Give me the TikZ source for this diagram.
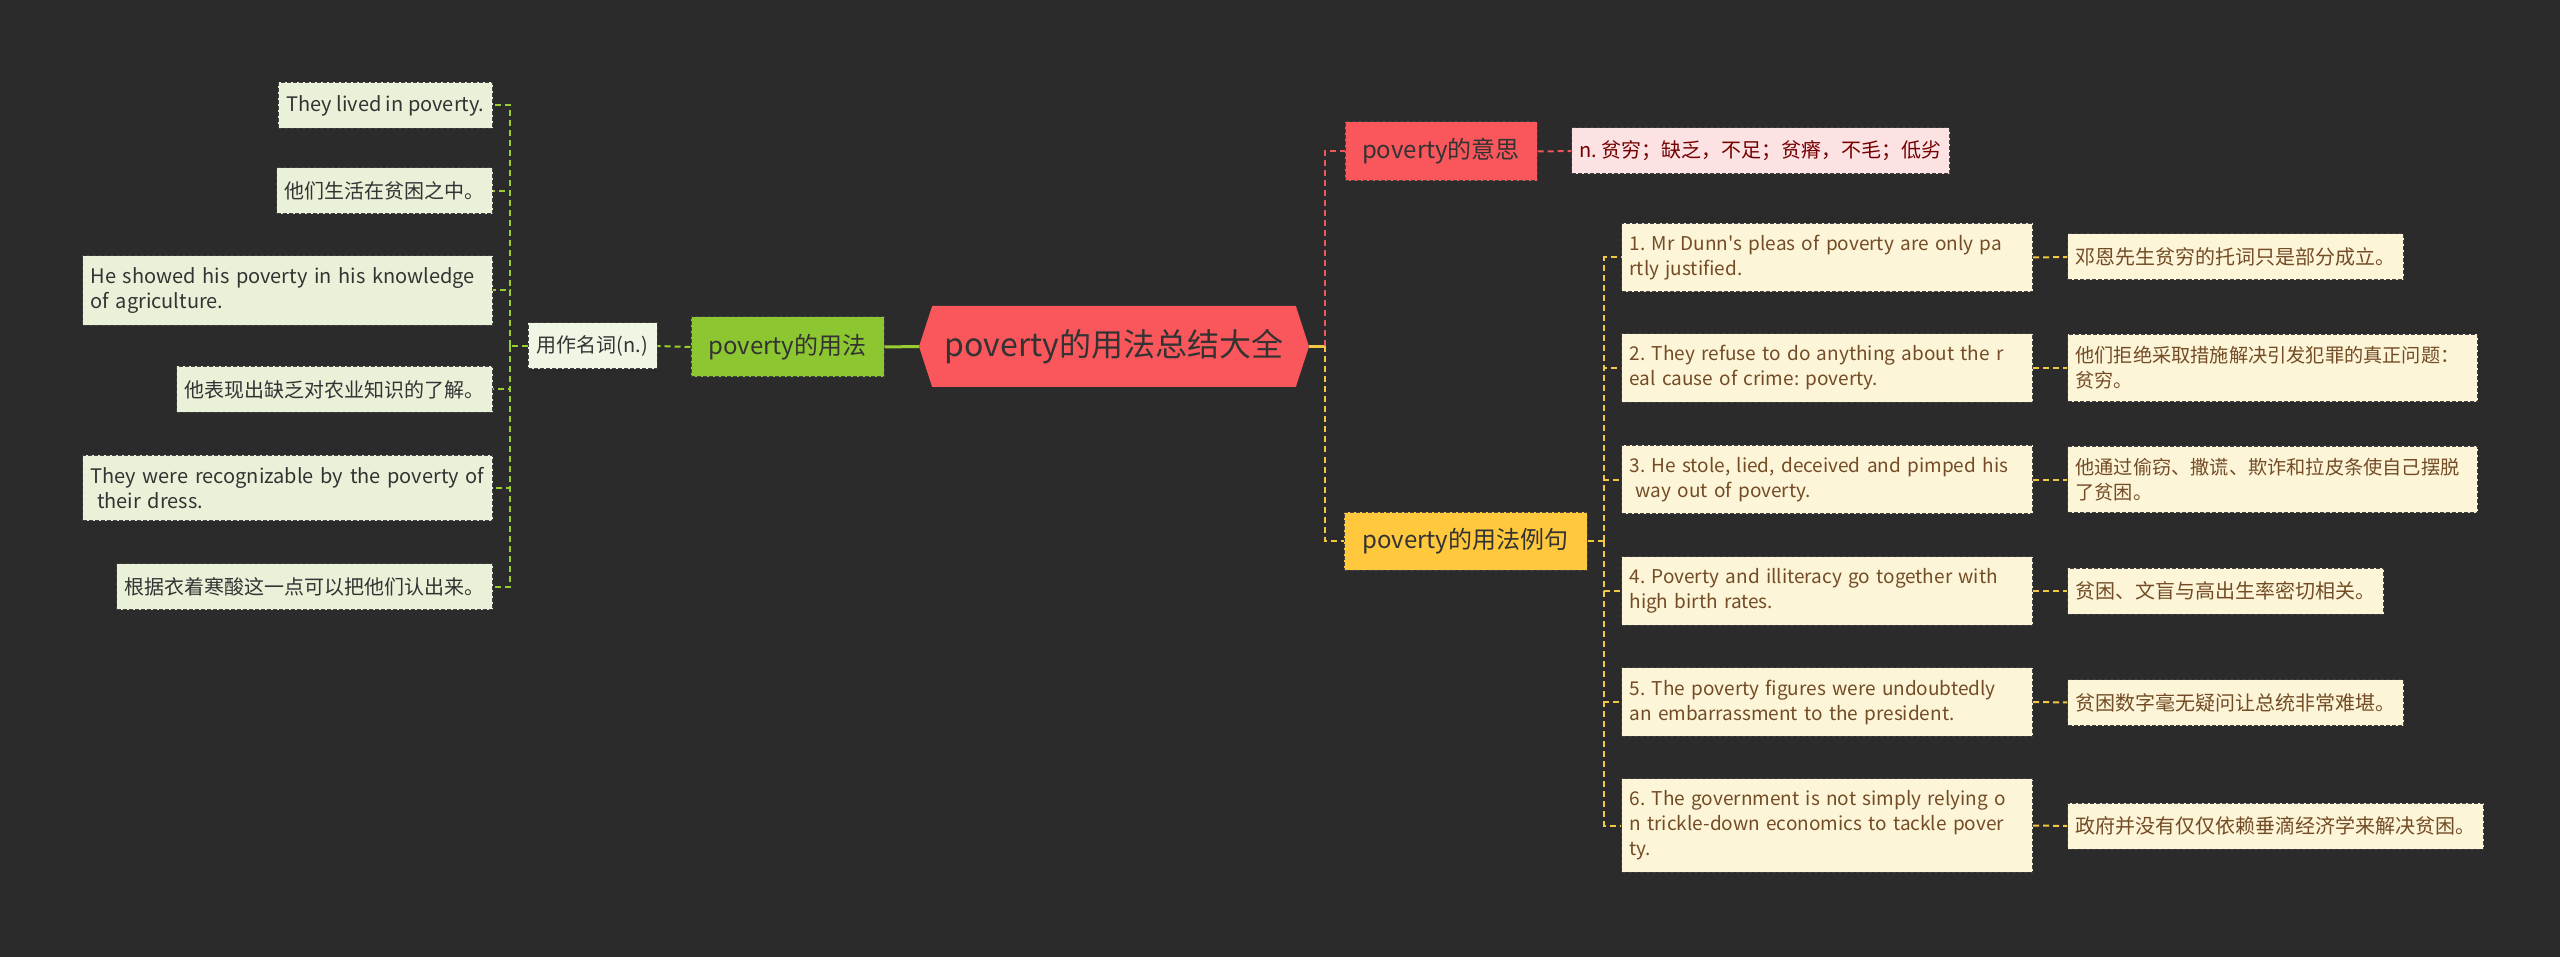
\documentclass[tikz,border=0pt]{standalone}
\usepackage{fontspec}
\setmainfont{Noto Sans CJK SC}[Ligatures=TeXOff]
\usepackage{xcolor}
\usetikzlibrary{shapes.symbols}

\definecolor{bgcol}{HTML}{2B2B2B}
\definecolor{rootred}{HTML}{F9575B}
\definecolor{usegreen}{HTML}{8CC630}
\definecolor{exyellow}{HTML}{FFC83D}
\definecolor{leafgreen}{HTML}{E9F2D9}
\definecolor{meanpink}{HTML}{FDE2E4}
\definecolor{exfill}{HTML}{FDF5D8}
\definecolor{gline}{HTML}{9ACD32}
\definecolor{rline}{HTML}{EE585D}
\definecolor{yline}{HTML}{F2C744}
\frenchspacing

\begin{document}
\begin{tikzpicture}[
  x=1pt, y=-1pt,
  box/.style={draw=black!75, dash pattern=on 4pt off 2pt, line width=1pt, inner xsep=8pt, inner ysep=12pt,
    minimum height=46pt, font=\fontsize{20}{25}\selectfont, align=left},
  leaf/.style={box, fill=leafgreen, text=black!80, anchor=east},
  topic/.style={box, minimum height=59pt, font=\fontsize{24}{28}\selectfont, text=black!80},
  item/.style={box, fill=exfill, text=exbrown, anchor=west, text width=395pt, font=\fontsize{19}{25}\selectfont},
  trans/.style={box, fill=exfill, text=exbrown, anchor=west},
  longtrans/.style={trans, text width=394pt, font=\fontsize{19.2}{25}\selectfont},
  link/.style={line width=2pt, dash pattern=on 6pt off 4pt}
]
\colorlet{exbrown}{brown!60!black}
\fill[bgcol] (0,0) rectangle (2560,957);

\node [signal, signal to=west and east, signal pointer angle=144, fill=rootred, minimum width=390pt,
  minimum height=81pt, font=\fontsize{32}{36}\selectfont, text=black!80] (root) at (1114,346.5) {poverty的用法总结大全};

\node [topic, fill=usegreen, minimum width=193pt, minimum height=60pt] (use) at (787.5,347) {poverty的用法};
\node [box, fill=leafgreen!70!white, text=black!80, minimum width=129pt] (noun) at (592.5,346) {用作名词(n.)};

\node [leaf] (l1) at (493,105.5) {They lived in poverty.};
\node [leaf] (l2) at (493,191) {他们生活在贫困之中。};
\node [leaf, text width=394pt] (l3) at (493,290.5) {He showed his poverty in his knowledge\\of agriculture.};
\node [leaf] (l4) at (493,389.5) {他表现出缺乏对农业知识的了解。};
\node [leaf, text width=394pt] (l5) at (493,488) {They were recognizable by the poverty of\\\ their dress.};
\node [leaf] (l6) at (493,586.5) {根据衣着寒酸这一点可以把他们认出来。};

\node [topic, fill=rootred, minimum width=192pt] (mean) at (1441,151.5) {poverty的意思};
\node [box, fill=meanpink, text=red!45!black, anchor=west] (gloss) at (1571,151) {n. 贫穷；缺乏，不足；贫瘠，不毛；低劣};

\node [topic, fill=exyellow, minimum width=243pt, minimum height=58pt] (ex) at (1465.5,541) {poverty的用法例句};

\node [item] (i1) at (1621,257.5) {1. Mr Dunn's pleas of poverty are only pa\\rtly justified.};
\node [item] (i2) at (1621,368) {2. They refuse to do anything about the r\\eal cause of crime: poverty.};
\node [item] (i3) at (1621,479.5) {3. He stole, lied, deceived and pimped his\\\ way out of poverty.};
\node [item] (i4) at (1621,591) {4. Poverty and illiteracy go together with\\high birth rates.};
\node [item] (i5) at (1621,702) {5. The poverty figures were undoubtedly\\an embarrassment to the president.};
\node [item] (i6) at (1621,825.5) {6. The government is not simply relying o\\n trickle-down economics to tackle pover\\ty.};

\node [trans] (t1) at (2067,257) {邓恩先生贫穷的托词只是部分成立。};
\node [longtrans] (t2) at (2067,368) {他们拒绝采取措施解决引发犯罪的真正问题：\\贫穷。};
\node [longtrans] (t3) at (2067,479.5) {他通过偷窃、撒谎、欺诈和拉皮条使自己摆脱\\了贫困。};
\node [trans] (t4) at (2067,591) {贫困、文盲与高出生率密切相关。};
\node [trans] (t5) at (2067,702.5) {贫困数字毫无疑问让总统非常难堪。};
\node [trans] (t6) at (2067,826) {政府并没有仅仅依赖垂滴经济学来解决贫困。};

\coordinate (lt) at (510,346);
\coordinate (rt) at (1325,346.5);
\coordinate (et) at (1604,541);

\draw [gline, line width=3pt] (root.west) -- (use.east);
\draw [gline, link] (use.west) -- (noun.east);
\draw [gline, link] (noun.west) -- (lt);
\foreach \n in {l1,l2,l3,l4,l5,l6}
  \draw [gline, link] (lt) |- (\n.east);

\draw [yline, line width=3pt] (root.east) -- (rt);
\draw [rline, link] (rt) |- (mean.west);
\draw [yline, link] (rt) |- (ex.west);
\draw [rline, link] (mean.east) -- (gloss.west);
\draw [yline, link] (ex.east) -- (et);
\foreach \i in {1,...,6} {
  \draw [yline, link] (et) |- (i\i.west);
  \draw [yline, link] (i\i.east) -- (t\i.west);
}
\end{tikzpicture}
\end{document}
